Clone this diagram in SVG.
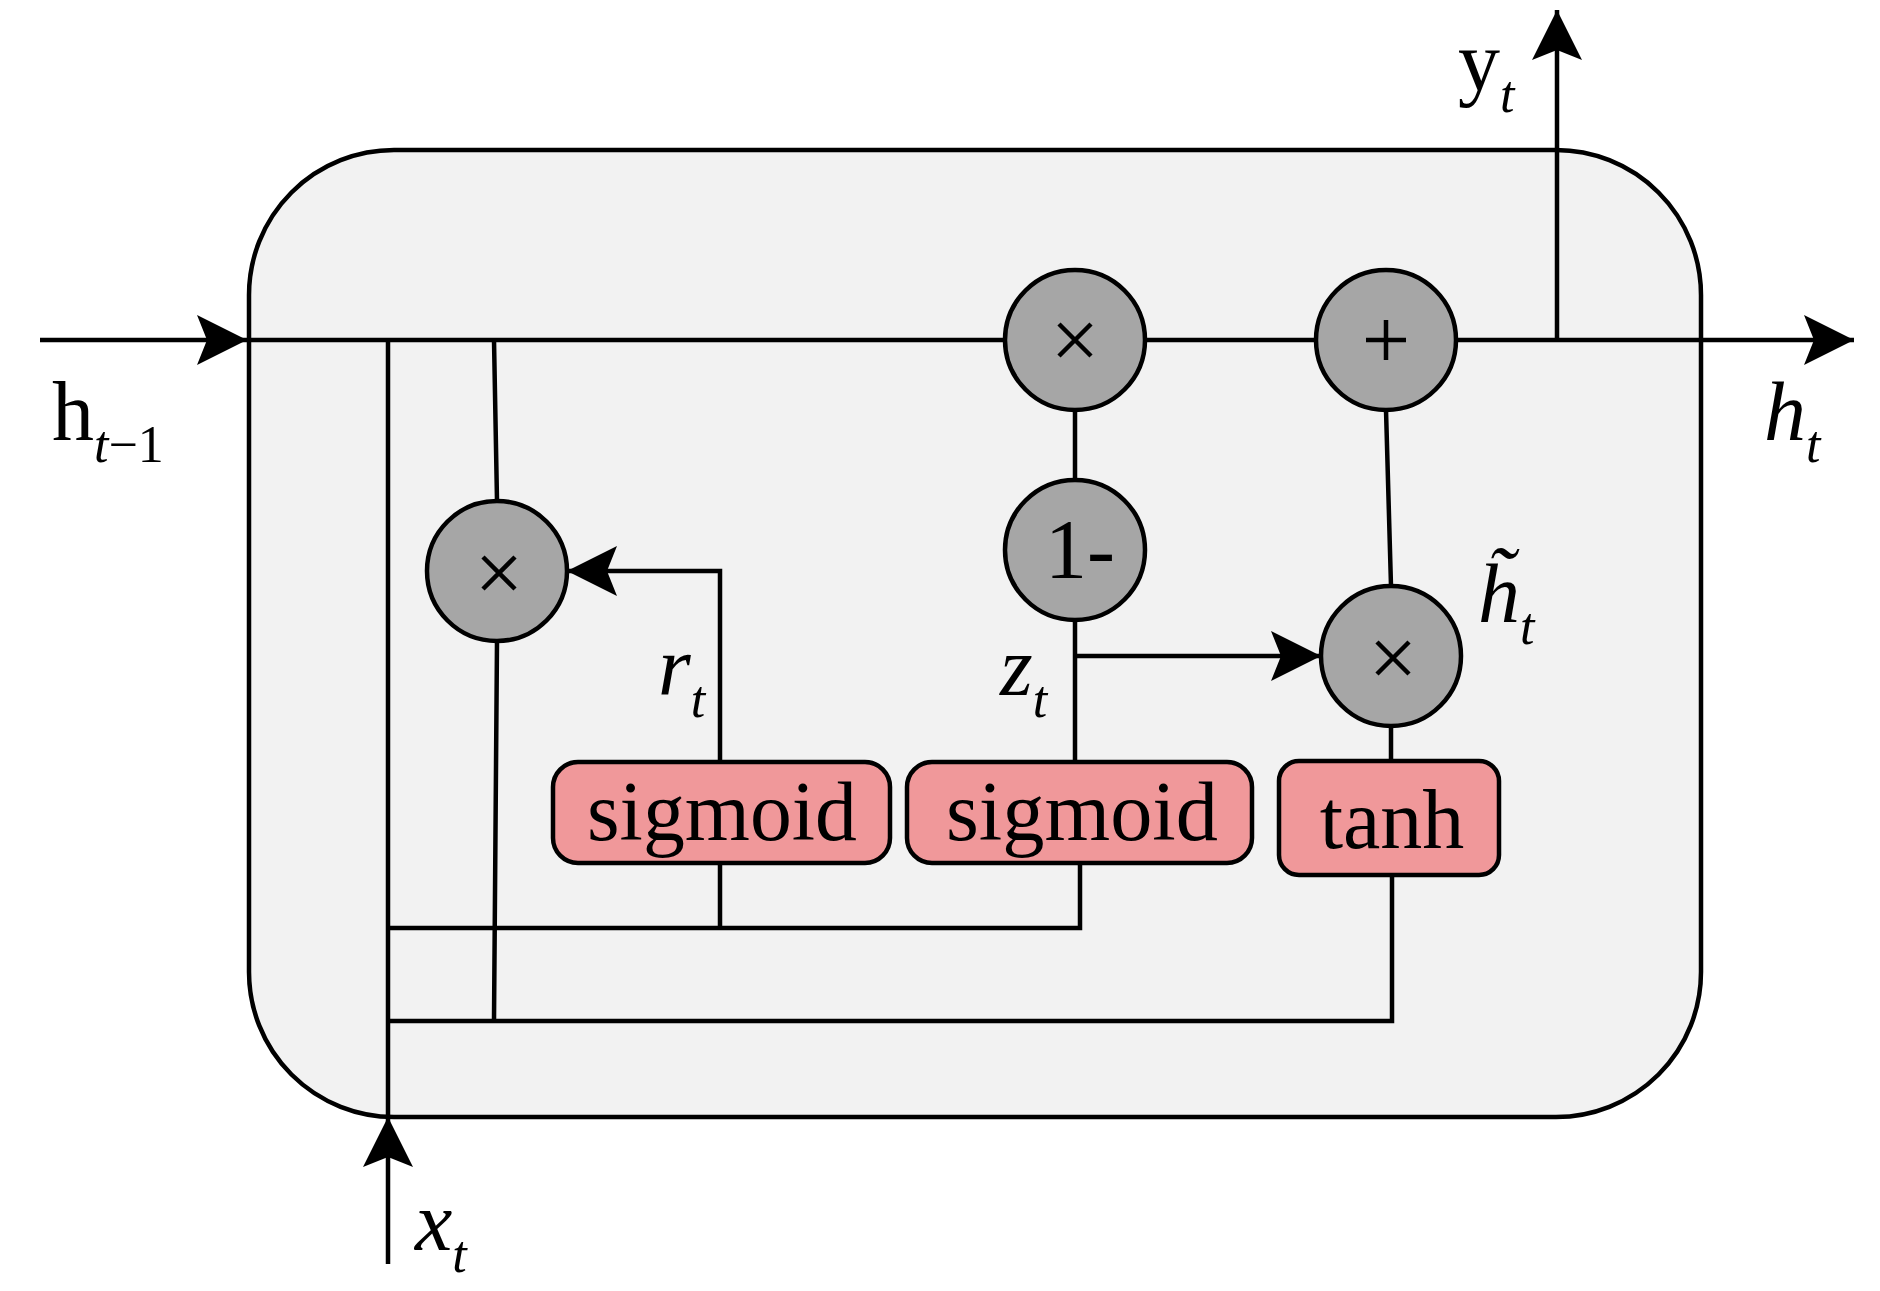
<svg xmlns="http://www.w3.org/2000/svg" width="1880" height="1291" viewBox="0 0 1880 1291">
<style>
.l{stroke:#000;stroke-width:4.5;fill:none}
.c{fill:#a6a6a6;stroke:#000;stroke-width:4.5}
.b{fill:#f0989a;stroke:#000;stroke-width:4.5}
.t{font-family:"Liberation Serif",serif;font-size:84px;fill:#000}
.o{font-family:"DejaVu Sans",sans-serif;font-size:80px;font-weight:200;fill:#000}
.i{font-style:italic}
.s{font-size:52px}
</style>
<defs><marker id="m" viewBox="0 0 50 50" refX="50" refY="25" markerWidth="50" markerHeight="50" markerUnits="userSpaceOnUse" orient="auto"><path d="M0,0L50,25L0,50L10,25z"/></marker></defs>
<rect id="cell" x="249" y="150" width="1452" height="967" rx="145" fill="#f2f2f2" stroke="#000" stroke-width="4.5"/>
<g id="connectors" class="l">
<path d="M40,340H247" marker-end="url(#m)"/>
<path d="M247,340H1854" marker-end="url(#m)"/>
<path d="M1557,340V10" marker-end="url(#m)"/>
<path d="M388,1264V1117" marker-end="url(#m)"/>
<path d="M388,1117V340"/>
<path d="M494,340L497,501M497,641L494,1021"/>
<path d="M388,928H1080V863M720,863V928"/>
<path d="M388,1021H1392V875"/>
<path d="M720,762V571H567" marker-end="url(#m)"/>
<path d="M1075,410V480M1075,620V762"/>
<path d="M1075,656H1321" marker-end="url(#m)"/>
<path d="M1386,410L1391,586M1391,726V761"/>
</g>
<g id="n1"><circle class="c" cx="1075" cy="340" r="70"/><path class="l" d="M1059,324L1091,356M1091,324L1059,356" stroke-width="3"/></g>
<g id="n2"><circle class="c" cx="1386" cy="340" r="70"/><path class="l" d="M1366,340H1406M1386,320V360" stroke-width="3"/></g>
<g id="n3"><circle class="c" cx="1075" cy="550" r="70"/><text class="t" x="1080" y="578" text-anchor="middle">1-</text></g>
<g id="n4"><circle class="c" cx="497" cy="571" r="70"/><path class="l" d="M483,557L515,589M515,557L483,589" stroke-width="3"/></g>
<g id="n5"><circle class="c" cx="1391" cy="656" r="70"/><path class="l" d="M1377,642L1409,674M1409,642L1377,674" stroke-width="3"/></g>
<g id="g1"><rect class="b" x="553" y="762" width="337" height="101" rx="25"/><text class="t" x="722" y="840" text-anchor="middle" textLength="270" lengthAdjust="spacingAndGlyphs">sigmoid</text></g>
<g id="g2"><rect class="b" x="907" y="762" width="345" height="101" rx="25"/><text class="t" x="1082" y="840" text-anchor="middle" textLength="272" lengthAdjust="spacingAndGlyphs">sigmoid</text></g>
<g id="g3"><rect class="b" x="1279" y="761" width="220" height="114" rx="20"/><text class="t" x="1392" y="848" text-anchor="middle">tanh</text></g>
<g id="labels">
<text class="t" x="52" y="440">h<tspan class="i s" dy="22">t</tspan><tspan class="s" dy="0">−1</tspan></text>
<text class="t i" x="1764" y="440">h<tspan class="s" dy="22">t</tspan></text>
<text class="t" x="1458" y="90">y<tspan class="i s" dy="22">t</tspan></text>
<text class="t i" x="415" y="1250">x<tspan class="s" dy="22">t</tspan></text>
<text class="t i" x="658" y="695">r<tspan class="s" dy="22">t</tspan></text>
<text class="t i" x="1000" y="695">z<tspan class="s" dy="22">t</tspan></text>
<text class="t i" x="1478" y="622">h̃<tspan class="s" dy="22">t</tspan></text>
</g>
</svg>
